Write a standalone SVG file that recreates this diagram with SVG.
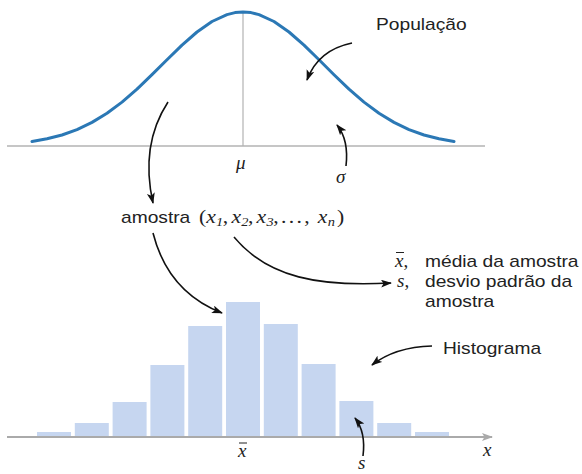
<svg xmlns="http://www.w3.org/2000/svg" width="582" height="474" viewBox="0 0 582 474">
<defs>
<marker id="ah" markerUnits="userSpaceOnUse" markerWidth="12" markerHeight="9" refX="10" refY="4" orient="auto">
<path d="M0,0 L11,4 L0,8 L2.5,4 z" fill="#111"/>
</marker>
<marker id="ahg" markerUnits="userSpaceOnUse" markerWidth="12" markerHeight="9" refX="10" refY="4" orient="auto">
<path d="M0,0 L11,4 L0,8 L2.5,4 z" fill="#aaa"/>
</marker>
</defs>
<style>
.lbl{font-family:"Liberation Sans",Arial,sans-serif;font-size:16px;fill:#222}
.m{font-family:"Liberation Serif","Times New Roman",serif;font-style:italic;font-size:19px;fill:#222}
.seq{font-family:"Liberation Serif","Times New Roman",serif;font-style:italic;font-size:18px;fill:#222}
.sub{font-size:12px}
.arr{fill:none;stroke:#111;stroke-width:1.6;marker-end:url(#ah)}
.bar{fill:#c6d6f0}
.ax{stroke:#b3b3b3;fill:none}
</style>
<rect width="582" height="474" fill="#fff"/>

<g id="population">
<line class="ax" x1="7" y1="146" x2="485" y2="146" stroke-width="1.5"/>
<line class="ax" x1="243" y1="12" x2="243" y2="146" stroke-width="1.2"/>
<polyline fill="none" stroke="#2b78b5" stroke-width="3" stroke-linejoin="round" stroke-linecap="round" points="32,141.5 47,138.8 62,135 77,129.6 92,122.4 107,113.3 122,102.1 137,89.1 152,74.7 167,59.7 182,45.1 197,32 212,21.5 227,14.6 235,12.6 243,12 251,12.6 259,14.6 274,21.5 289,32 304,45.1 319,59.7 334,74.7 349,89.1 364,102.1 379,113.3 394,122.4 409,129.6 424,135 439,138.8 454,141.5"/>
<text class="m" x="236" y="169">μ</text>
<text class="m" x="336" y="183">σ</text>
<text class="lbl" transform="translate(376,30) scale(1.2,1)">População</text>
</g>

<g id="sample">
<text class="lbl" transform="translate(121,223) scale(1.2,1)">amostra</text>
<g transform="translate(199,223) scale(1.2,1)">
<text class="seq"><tspan x="0" font-style="normal">(</tspan><tspan x="6">x</tspan><tspan class="sub" x="14.2" dy="3">1</tspan><tspan x="19.8" dy="-3" font-style="normal">,</tspan><tspan x="27">x</tspan><tspan class="sub" x="35.2" dy="3">2</tspan><tspan x="40.8" dy="-3" font-style="normal">,</tspan><tspan x="48">x</tspan><tspan class="sub" x="56.2" dy="3">3</tspan><tspan x="61.8" dy="-3" font-style="normal" letter-spacing="2">,...,</tspan><tspan x="99">x</tspan><tspan class="sub" x="107.2" dy="3">n</tspan><tspan x="115" dy="-3" font-style="normal">)</tspan></text>
</g>
</g>

<g id="stats">
<text class="m" x="395" y="267">x<tspan font-style="normal">,</tspan></text>
<line x1="396" y1="252.5" x2="404" y2="252.5" stroke="#222" stroke-width="1"/>
<text class="lbl" transform="translate(425,267) scale(1.2,1)">média da amostra</text>
<text class="m" x="397" y="287">s<tspan font-style="normal">,</tspan></text>
<text class="lbl" transform="translate(425,287) scale(1.2,1)">desvio padrão da</text>
<text class="lbl" transform="translate(425,307) scale(1.2,1)">amostra</text>
</g>

<g id="histogram">
<rect class="bar" x="37" y="432" width="34" height="4"/>
<rect class="bar" x="74.8" y="423" width="34" height="13"/>
<rect class="bar" x="112.6" y="402" width="34" height="34"/>
<rect class="bar" x="150.4" y="365" width="34" height="71"/>
<rect class="bar" x="188.2" y="326" width="34" height="110"/>
<rect class="bar" x="226" y="302" width="34" height="134"/>
<rect class="bar" x="263.8" y="324" width="34" height="112"/>
<rect class="bar" x="301.6" y="364" width="34" height="72"/>
<rect class="bar" x="339.4" y="401" width="34" height="35"/>
<rect class="bar" x="377.2" y="423" width="34" height="13"/>
<rect class="bar" x="415" y="432" width="34" height="4"/>
<line x1="7" y1="437" x2="492" y2="437" stroke="#aaa" stroke-width="2" marker-end="url(#ahg)"/>
<text class="m" x="238" y="457">x</text>
<line x1="239" y1="443" x2="247" y2="443" stroke="#222" stroke-width="1"/>
<text class="m" x="483" y="456">x</text>
<text class="m" x="358" y="469">s</text>
<text class="lbl" transform="translate(443,354) scale(1.2,1)">Histograma</text>
</g>

<g id="connectors">
<path class="arr" d="M352,43 Q318,50 307,80"/>
<path class="arr" d="M346,166 Q349,140 337,125"/>
<path class="arr" d="M168,102 Q140,145 153,203"/>
<path class="arr" d="M153,233 Q168,292 222,313"/>
<path class="arr" d="M234,237 C268,278 320,287 391,283"/>
<path class="arr" d="M432,346 Q395,347 372,365"/>
<path class="arr" d="M363,456 Q366,432 355,418"/>
</g>
</svg>
